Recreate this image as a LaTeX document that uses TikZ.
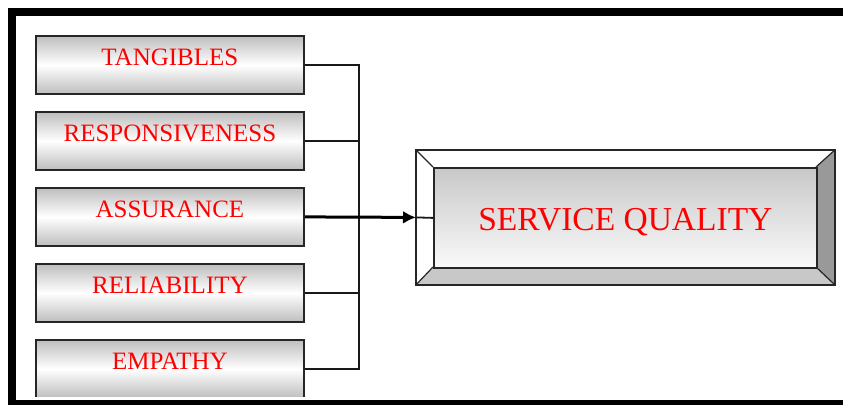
\documentclass[tikz,border=0pt]{standalone}
\usepackage{fontspec}
\setmainfont{Liberation Serif}
\usetikzlibrary{arrows.meta}
\definecolor{txtred}{RGB}{255,0,0}
\definecolor{boxgray}{RGB}{190,190,190}
\definecolor{bevlight}{RGB}{200,200,200}
\definecolor{bevdark}{RGB}{153,153,153}
\tikzset{
  factor/.style={draw=black!85, line width=1.8pt, minimum width=268pt, minimum height=58pt,
    inner sep=0pt, anchor=north west, top color=boxgray, bottom color=boxgray, middle color=white},
  factortext/.style={anchor=base, text=txtred, font=\fontsize{25}{28}\selectfont, inner sep=0pt},
  link/.style={draw=black!90, line width=1.8pt},
  bigarrow/.style={draw=black, line width=3pt, -{Latex[length=13pt,width=13pt]}},
}
\begin{document}
\begin{tikzpicture}[x=1pt,y=-1pt]
\useasboundingbox (0,0) rectangle (843,405);
\fill[white] (0,0) rectangle (843,405);
% factor boxes
\node[factor] (t) at (35,35) {};
\node[factor] (r) at (35,111) {};
\node[factor] (a) at (35,187) {};
\node[factor] (l) at (35,263) {};
\begin{scope}
\clip (0,0) rectangle (843,396);
\node[factor] (e) at (35,339) {};
\end{scope}
\node[factortext] (tt) at ([yshift=-30pt]t.north) {TANGIBLES};
\node[factortext] (rt) at ([yshift=-30pt]r.north) {RESPONSIVENESS};
\node[factortext] (at) at ([yshift=-30pt]a.north) {ASSURANCE};
\node[factortext] (lt) at ([yshift=-30pt]l.north) {RELIABILITY};
\node[factortext] (et) at ([yshift=-30pt]e.north) {EMPATHY};
% service quality box
\node[draw=black!85, line width=1.8pt, minimum width=417pt, minimum height=133pt, inner sep=0pt, anchor=north west] (sqo) at (416,150) {};
\fill[white] (sqo.north west) -- (sqo.north east) -- (816,167) -- (433,167) -- cycle;
\fill[white] (sqo.north west) -- (433,167) -- (433,267) -- (sqo.south west) -- cycle;
\fill[bevlight] (sqo.south west) -- (433,267) -- (816,267) -- (sqo.south east) -- cycle;
\fill[bevdark] (sqo.south east) -- (816,267) -- (816,167) -- (sqo.north east) -- cycle;
\draw[black!85, line width=1.2pt] (sqo.north west) -- (433,167) (sqo.north east) -- (816,167)
  (sqo.south west) -- (433,267) (sqo.south east) -- (816,267);
\draw[black!85, line width=1.8pt] (sqo.north west) rectangle (sqo.south east);
\node[draw=black!85, line width=1.8pt, minimum width=383pt, minimum height=100pt, inner sep=0pt, anchor=north west,
  top color=bevlight, bottom color=black!2] (sqi) at (433,167) {};
\node[text=txtred, font=\fontsize{33.5}{36}\selectfont, inner sep=0pt, anchor=base] (sqt) at ([yshift=-63pt]sqi.north) {SERVICE QUALITY};
% connectors
\coordinate (bus) at (359,0);
\draw[link] (t.east) -- (t.east -| bus) -- (e.east -| bus) -- (e.east);
\draw[link] (r.east) -- (r.east -| bus);
\draw[link] (l.east) -- (l.east -| bus);
\draw[bigarrow] (a.east) -- (sqo.west);
\draw[link] (sqo.west) -- (sqi.west);
% frame
\fill[black] (8,8) rectangle (843,16);
\fill[black] (8,8) rectangle (16,405);
\fill[black] (8,400) rectangle (843,405);
\end{tikzpicture}
\end{document}
